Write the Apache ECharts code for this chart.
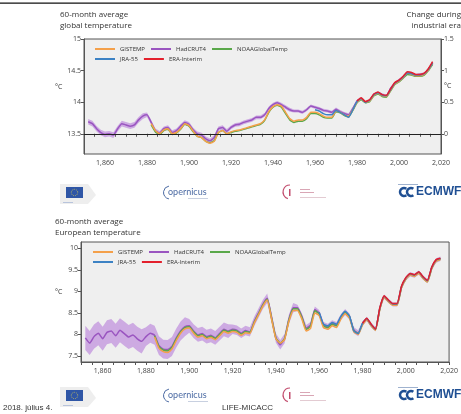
<!DOCTYPE html>
<html>
<head>
<meta charset="utf-8">
<script src="https://cdn.jsdelivr.net/npm/echarts@6/dist/echarts.min.js"></script>
<style>html,body{margin:0;padding:0;background:#fff;}#c{width:461px;height:414px;}</style>
</head>
<body>
<div id="c"></div>
<script>
// ---------- DATA ----------
function yrs(a, b, s) { var r = []; for (var y = a; y <= b; y += s) r.push(y); return r; }
var xTickLabels = [1860, 1880, 1900, 1920, 1940, 1960, 1980, 2000, 2020];

// Global (absolute, deg C)
var gYearsHad = yrs(1852, 2016, 2);
var gHad = [13.69,13.66,13.58,13.52,13.49,13.50,13.48,13.58,13.66,13.64,13.62,13.64,13.72,13.78,
  13.80,13.68,13.55,13.51,13.58,13.60,13.52,13.55,13.62,13.68,
  13.65,13.56,13.50,13.48,13.42,13.39,13.44,13.58,13.60,13.54,
  13.60,13.64,13.65,13.68,13.70,13.72,13.76,13.76,13.80,13.90,13.96,13.99,13.96,13.92,13.88,
  13.86,13.86,13.84,13.88,13.94,13.92,13.90,13.87,13.86,13.84,13.89,13.85,13.82,13.80,13.90,
  14.02,14.06,14.00,14.03,14.12,14.15,14.12,14.10,14.22,14.30,14.35,14.40,14.46,14.45,14.43,14.44,14.45,14.52,14.62];
var gHadUnc = [0.045,0.045,0.045,0.045,0.045,0.045,0.045,0.045,0.045,0.045,0.045,0.045,0.045,0.045,
  0.035,0.035,0.035,0.035,0.035,0.035,0.035,0.035,0.035,0.035,0.035,0.035,0.035,0.035,0.035,0.035,0.035,0.035,0.035,0.035,
  0.03,0.03,0.03,0.03,0.03,0.03,0.03,0.03,0.03,0.03,0.03,0.03,0.03,0.03,0.03,
  0.025,0.025,0.025,0.025,0.025,0.025,0.025,0.025,0.025,0.025,0.025,0.025,0.025,0.025,0.025,
  0.02,0.02,0.02,0.02,0.02,0.02,0.02,0.02,0.02,0.02,0.02,0.02,0.02,0.02,0.02,0.02,0.02,0.02,0.02];
var gYearsGis = yrs(1882, 2016, 2);
var gGis = [13.66,13.55,13.50,13.56,13.58,13.50,13.52,13.58,13.66,13.63,13.54,13.46,13.44,13.38,13.35,13.38,13.52,13.55,13.50,
  13.53,13.55,13.56,13.58,13.60,13.62,13.64,13.66,13.72,13.85,13.93,13.96,13.94,13.84,13.74,13.70,13.72,13.72,13.76,13.84,
  13.84,13.82,13.78,13.76,13.76,13.86,13.84,13.80,13.78,13.88,14.00,14.05,14.00,14.02,14.11,14.14,14.10,14.09,14.19,14.29,
  14.33,14.39,14.46,14.44,14.42,14.42,14.44,14.51,14.62];
var gNoaa = [13.64,13.53,13.49,13.55,13.57,13.49,13.51,13.57,13.65,13.62,13.53,13.46,13.44,13.38,13.36,13.39,13.52,13.55,13.50,
  13.52,13.54,13.55,13.57,13.59,13.61,13.63,13.65,13.71,13.84,13.92,13.95,13.92,13.82,13.72,13.68,13.70,13.70,13.74,13.82,
  13.82,13.80,13.76,13.75,13.75,13.85,13.83,13.79,13.77,13.87,13.99,14.04,13.99,14.01,14.10,14.13,14.09,14.08,14.18,14.28,
  14.32,14.38,14.44,14.43,14.41,14.41,14.43,14.50,14.60];
var gYearsJra = yrs(1960, 2016, 2);
var gJra = [13.88,13.86,13.82,13.80,13.80,13.87,13.84,13.80,13.76,13.88,14.01,14.06,14.00,14.03,14.12,14.15,14.11,14.10,14.20,
  14.30,14.34,14.40,14.46,14.45,14.43,14.43,14.45,14.52,14.62];
var gYearsEra = yrs(1980, 2016, 2);
var gEra = [14.02,14.07,14.01,14.04,14.13,14.16,14.12,14.11,14.21,14.31,14.35,14.41,14.48,14.47,14.44,14.44,14.46,14.53,14.64];

// Europe (absolute, deg C)
var eYearsHad = yrs(1852, 2016, 2);
var eHad = [7.92,7.80,7.95,8.03,7.90,8.05,8.08,7.97,8.10,8.02,7.94,7.99,7.90,7.84,
  7.95,8.03,7.98,7.74,7.66,7.65,7.72,7.92,8.08,8.18,
  8.20,8.08,7.99,8.02,7.95,7.98,7.92,8.02,8.12,8.08,
  8.12,8.10,8.03,8.09,8.06,8.30,8.50,8.70,8.84,8.40,7.92,7.76,7.90,8.35,8.62,
  8.62,8.42,8.15,8.22,8.58,8.50,8.22,8.18,8.26,8.22,8.40,8.52,8.42,8.10,8.03,
  8.25,8.36,8.22,8.12,8.60,8.88,8.78,8.70,8.70,9.10,9.30,9.40,9.37,9.44,9.32,9.24,9.55,9.72,9.76];
var eHadUnc = [0.28,0.28,0.28,0.28,0.28,0.28,0.28,0.28,0.28,0.28,0.28,0.28,0.28,0.28,
  0.22,0.22,0.22,0.22,0.22,0.22,0.22,0.22,0.22,0.22,
  0.16,0.16,0.16,0.16,0.16,0.16,0.16,0.16,0.16,0.16,
  0.11,0.11,0.11,0.11,0.11,0.11,0.11,0.11,0.11,0.11,0.11,0.11,0.11,0.11,0.11,
  0.07,0.07,0.07,0.07,0.07,0.07,0.07,0.07,0.07,0.07,0.07,0.07,0.07,0.07,0.07,
  0.05,0.05,0.05,0.05,0.05,0.05,0.05,0.05,0.05,0.05,0.05,0.05,0.05,0.05,0.05,0.05,0.05,0.05,0.05];
var eYearsGis = yrs(1884, 2016, 2);
var eGis = [7.94,7.68,7.60,7.58,7.66,7.86,8.03,8.13,8.15,8.03,7.94,7.97,7.90,7.93,7.88,7.97,8.07,8.03,
  8.07,8.05,7.98,8.04,8.02,8.26,8.46,8.66,8.80,8.36,7.90,7.80,7.88,8.30,8.56,8.56,8.36,8.08,8.14,8.50,
  8.44,8.16,8.12,8.20,8.16,8.36,8.48,8.38,8.06,8.00,8.22,8.34,8.20,8.10,8.58,8.86,8.76,8.68,8.68,9.08,
  9.28,9.38,9.35,9.42,9.30,9.22,9.53,9.70,9.74];
var eNoaa = [7.97,7.72,7.64,7.62,7.70,7.90,8.06,8.16,8.18,8.06,7.97,8.00,7.93,7.96,7.91,8.00,8.10,8.06,
  8.10,8.08,8.01,8.07,8.05,8.28,8.48,8.68,8.82,8.38,7.92,7.80,7.90,8.33,8.60,8.60,8.40,8.12,8.19,8.55,
  8.48,8.20,8.16,8.24,8.20,8.39,8.51,8.41,8.09,8.02,8.24,8.35,8.21,8.11,8.59,8.87,8.77,8.69,8.69,9.09,
  9.29,9.39,9.36,9.43,9.31,9.23,9.54,9.71,9.75];
var eYearsJra = yrs(1960, 2016, 2);
var eJra = [8.52,8.24,8.20,8.28,8.24,8.42,8.54,8.43,8.08,8.02,8.26,8.37,8.23,8.12,8.61,8.89,8.79,8.71,8.71,
  9.11,9.31,9.41,9.38,9.45,9.33,9.25,9.56,9.73,9.77];
var eYearsEra = yrs(1980, 2016, 2);
var eEra = [8.26,8.38,8.24,8.12,8.62,8.90,8.80,8.72,8.72,9.12,9.32,9.42,9.39,9.46,9.34,9.26,9.57,9.74,9.77];

var gLeftTicks = [13.5, 14, 14.5, 15];
var gRightTicks = [0, 0.5, 1, 1.5];
var eLeftTicks = [7.5, 8, 8.5, 9, 9.5, 10];

// ---------- STYLE ----------
var C = { gis: '#f4a04a', had: '#9a55c0', hadBand: '#cdaae2', noaa: '#5aa84a', jra: '#3c82c4', era: '#e3202c' };
var PLOT_BG = '#efefef';
var FONT = 'Open Sans';
var minorYears = yrs(1850, 2020, 5);

function pairs(x, y) { return x.map(function (v, i) { return [v, y[i]]; }); }

function line(name, xi, yi, x, y, color, extra) {
  var s = { name: name, type: 'line', xAxisIndex: xi, yAxisIndex: yi, data: pairs(x, y), showSymbol: false, symbol: 'none',
    lineStyle: { color: color, width: 1.5 }, itemStyle: { color: color }, smooth: 0.15, silent: true };
  if (extra) for (var k in extra) s[k] = extra[k];
  return s;
}
function band(id, xi, yi, x, y, u) {
  var rows = x.map(function (v, i) { return [v, +(y[i] - u[i]).toFixed(3), +(y[i] + u[i]).toFixed(3)]; });
  return {
    name: id, type: 'custom', xAxisIndex: xi, yAxisIndex: yi, data: rows, silent: true,
    encode: { x: 0, y: [1, 2] }, clip: true,
    renderItem: function (params, api) {
      if (params.dataIndex !== 0) return null;
      var top = [], bot = [];
      for (var i = 0; i < rows.length; i++) {
        top.push(api.coord([rows[i][0], rows[i][2]]));
        bot.push(api.coord([rows[i][0], rows[i][1]]));
      }
      return { type: 'polygon', shape: { points: top.concat(bot.reverse()) }, style: { fill: C.hadBand, stroke: null } };
    }
  };
}

function xAxis(gi) {
  return { type: 'value', gridIndex: gi, min: 1850, max: 2020,
    axisLine: { show: true, lineStyle: { color: '#555', width: 1 } },
    axisTick: { show: true, customValues: minorYears, length: 3, lineStyle: { color: '#555' } },
    axisLabel: { customValues: xTickLabels, color: '#444', fontSize: 7, fontFamily: FONT, margin: 5 },
    splitLine: { show: false } };
}
function yAxis(gi, min, max, ticks, pos) {
  return { type: 'value', gridIndex: gi, min: min, max: max, position: pos || 'left',
    axisLine: { show: true, lineStyle: { color: '#555', width: 1 } },
    axisTick: { show: true, customValues: ticks, length: 3, lineStyle: { color: '#555' } },
    axisLabel: { customValues: ticks, color: '#444', fontSize: 7, fontFamily: FONT, margin: 3 },
    splitLine: { show: false } };
}

function legendRow(left, top, names) {
  return { left: left, top: top, orient: 'horizontal', padding: 0, itemGap: 6, itemWidth: 20, itemHeight: 2,
    icon: 'rect', selectedMode: false, data: names,
    textStyle: { fontSize: 6, color: '#333', fontFamily: FONT, width: 36, padding: [0, 0, 0, 0] } };
}

function txt(x, y, s, o) {
  o = o || {};
  return { type: 'text', x: x, y: y, silent: true, style: { text: s, fill: o.fill || '#333', font: (o.weight || 'normal') + ' ' + (o.size || 8) + 'px "' + (o.family || FONT) + '"',
    textAlign: o.align || 'left', textVerticalAlign: 'middle', lineHeight: o.lh || 11 } };
}
function logos(y0) {
  var g = [];
  // EU
  g.push({ type: 'polygon', shape: { points: [[60, y0 - 8], [88, y0 - 8], [96, y0 + 3], [88, y0 + 12], [60, y0 + 12]] }, style: { fill: '#eeeeee' }, silent: true });
  g.push({ type: 'rect', shape: { x: 66, y: y0 - 5, width: 17, height: 11 }, style: { fill: '#2f56a6' }, silent: true });
  g.push({ type: 'circle', shape: { cx: 74.5, cy: y0 + 0.5, r: 3.2 }, style: { fill: 'none', stroke: '#e8d44d', lineWidth: 0.8, lineDash: [0.8, 1] }, silent: true });
  g.push({ type: 'rect', shape: { x: 63, y: y0 + 10, width: 10, height: 1 }, style: { fill: '#b8c4dc' }, silent: true });
  // Copernicus
  g.push({ type: 'arc', shape: { cx: 170, cy: y0 + 0.5, r: 6.5, startAngle: Math.PI * 0.55, endAngle: Math.PI * 1.45 }, style: { stroke: '#4b6aa3', lineWidth: 1, fill: 'none' }, silent: true });
  g.push(txt(168, y0, 'opernicus', { size: 9, fill: '#4b6aa3', family: 'Lato' }));
  g.push({ type: 'rect', shape: { x: 188, y: y0 + 6, width: 20, height: 1 }, style: { fill: '#c8d0e0' }, silent: true });
  // Climate Change Service
  g.push({ type: 'arc', shape: { cx: 290, cy: y0, r: 7, startAngle: Math.PI * 0.6, endAngle: Math.PI * 1.5 }, style: { stroke: '#c24d6e', lineWidth: 1.2, fill: 'none' }, silent: true });
  g.push({ type: 'rect', shape: { x: 289, y: y0 - 3, width: 1.5, height: 7 }, style: { fill: '#c24d6e' }, silent: true });
  g.push({ type: 'rect', shape: { x: 300, y: y0 - 3, width: 10, height: 1 }, style: { fill: '#d9a6b5' }, silent: true });
  g.push({ type: 'rect', shape: { x: 300, y: y0, width: 14, height: 1 }, style: { fill: '#d9a6b5' }, silent: true });
  g.push({ type: 'rect', shape: { x: 300, y: y0 + 5, width: 26, height: 1 }, style: { fill: '#e3cbd2' }, silent: true });
  // ECMWF
  g.push({ type: 'rect', shape: { x: 398, y: y0 - 8, width: 20, height: 1 }, style: { fill: '#9fb2cf' }, silent: true });
  g.push({ type: 'arc', shape: { cx: 404, cy: y0, r: 4, startAngle: Math.PI * 0.3, endAngle: Math.PI * 1.7 }, style: { stroke: '#1f4f93', lineWidth: 2.5, fill: 'none' }, silent: true });
  g.push({ type: 'arc', shape: { cx: 411, cy: y0, r: 4, startAngle: Math.PI * 0.3, endAngle: Math.PI * 1.7 }, style: { stroke: '#1f4f93', lineWidth: 2.5, fill: 'none' }, silent: true });
  g.push(txt(416, y0, 'ECMWF', { size: 12, weight: 'bold', fill: '#1f4f93', family: 'Liberation Sans' }));
  return g;
}

var graphics = [
  { type: 'rect', shape: { x: 0, y: 2.5, width: 461, height: 1.2 }, style: { fill: '#111' }, silent: true },
  txt(60, 15, '60-month average', { size: 8 }),
  txt(60, 26, 'global temperature', { size: 8 }),
  txt(461, 15, 'Change during', { size: 8, align: 'right' }),
  txt(461, 26, 'industrial era', { size: 8, align: 'right' }),
  txt(55, 87, '°C', { size: 7 }),
  txt(444, 86, '°C', { size: 7 }),
  txt(55, 222, '60-month average', { size: 8 }),
  txt(55, 233, 'European temperature', { size: 8 }),
  txt(55, 292, '°C', { size: 7 }),
  txt(3, 408, '2018. július 4.', { size: 8, family: 'Liberation Sans' }),
  txt(222, 408, 'LIFE-MICACC', { size: 8, family: 'Liberation Sans' })
].concat(logos(192)).concat(logos(395));

var series = [
    band('gH', 0, 0, gYearsHad, gHad, gHadUnc),
    line('HadCRUT4', 0, 0, gYearsHad, gHad, C.had),
    line('NOAAGlobalTemp', 0, 0, gYearsGis, gNoaa, C.noaa),
    line('GISTEMP', 0, 0, gYearsGis, gGis, C.gis),
    line('JRA-55', 0, 0, gYearsJra, gJra, C.jra),
    line('ERA-Interim', 0, 0, gYearsEra, gEra, C.era, { markLine: { silent: true, symbol: 'none', label: { show: false },
      lineStyle: { color: '#222', width: 1, type: 'solid' }, data: [{ yAxis: 13.5 }] } }),
    band('eH', 1, 2, eYearsHad, eHad, eHadUnc),
    line('HadCRUT4', 1, 2, eYearsHad, eHad, C.had),
    line('NOAAGlobalTemp', 1, 2, eYearsGis, eNoaa, C.noaa),
    line('GISTEMP', 1, 2, eYearsGis, eGis, C.gis),
    line('JRA-55', 1, 2, eYearsJra, eJra, C.jra),
    line('ERA-Interim', 1, 2, eYearsEra, eEra, C.era)
];

var chart = echarts.init(document.getElementById('c'), null, { renderer: 'canvas' });
chart.setOption({
  backgroundColor: '#ffffff',
  animation: false,
  textStyle: { fontFamily: FONT },
  grid: [
    { left: 84, top: 39, width: 357, height: 115, show: true, backgroundColor: PLOT_BG, borderColor: '#555', borderWidth: 1 },
    { left: 81, top: 242, width: 369, height: 120, show: true, backgroundColor: PLOT_BG, borderColor: '#555', borderWidth: 1 }
  ],
  xAxis: [xAxis(0), xAxis(1)],
  yAxis: [
    yAxis(0, 13.18, 15.0, gLeftTicks, 'left'),
    yAxis(0, -0.32, 1.5, gRightTicks, 'right'),
    yAxis(1, 7.36, 10.15, eLeftTicks, 'left')
  ],
  legend: [
    legendRow(95, 46, ['GISTEMP', 'HadCRUT4', 'NOAAGlobalTemp']),
    legendRow(95, 56, ['JRA-55', 'ERA-Interim']),
    legendRow(93, 249, ['GISTEMP', 'HadCRUT4', 'NOAAGlobalTemp']),
    legendRow(93, 259, ['JRA-55', 'ERA-Interim'])
  ],
  series: series,
  graphic: graphics
});
</script>
</body>
</html>
